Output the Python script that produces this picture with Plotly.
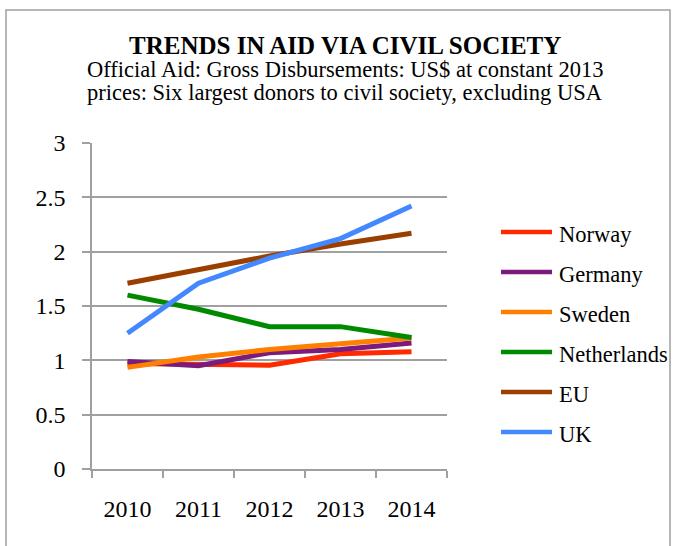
import plotly.graph_objects as go

# Years on the category axis
years = ["2010", "2011", "2012", "2013", "2014"]

# Aid via civil society (US$ billions, constant 2013 prices)
norway = [0.97, 0.96, 0.955, 1.06, 1.08]
germany = [0.99, 0.95, 1.07, 1.10, 1.16]
sweden = [0.935, 1.03, 1.10, 1.15, 1.205]
netherlands = [1.60, 1.47, 1.31, 1.31, 1.21]
eu = [1.71, 1.84, 1.96, 2.07, 2.17]
uk = [1.25, 1.71, 1.94, 2.12, 2.42]

donors = ["Norway", "Germany", "Sweden", "Netherlands", "EU", "UK"]
series = [norway, germany, sweden, netherlands, eu, uk]
colors = ["#FF2A00", "#7B1B7B", "#FF7F00", "#008A00", "#9A3F00", "#4488FF"]

y_ticks = [0, 0.5, 1, 1.5, 2, 2.5, 3]
y_ticklabels = ["0", "0.5", "1", "1.5", "2", "2.5", "3"]

SERIF = "Liberation Serif, Times New Roman, serif"

# Plot-area geometry in pixels (used to place paper-referenced decorations)
W, H = 673, 546
L, R, T, B = 92, 447, 143, 469


def px_x(px):
    return (px - L) / (R - L)


def px_y(py):
    return (B - py) / (B - T)


fig = go.Figure()
for name, vals, col in zip(donors, series, colors):
    fig.add_trace(go.Scatter(
        x=years, y=vals, name=name, mode="lines",
        line=dict(color=col, width=5),
        showlegend=False,
    ))

annotations = [
    dict(text="<b>TRENDS IN AID VIA CIVIL SOCIETY</b>", xref="paper", yref="paper",
         x=px_x(345), y=px_y(46), xanchor="center", yanchor="middle",
         showarrow=False, font=dict(family=SERIF, size=25, color="black")),
    dict(text="Official Aid: Gross Disbursements: US$ at constant 2013",
         xref="paper", yref="paper", x=px_x(345), y=px_y(69),
         xanchor="center", yanchor="middle",
         showarrow=False, font=dict(family=SERIF, size=22.5, color="black")),
    dict(text="prices: Six largest donors to civil society, excluding USA",
         xref="paper", yref="paper", x=px_x(345), y=px_y(92),
         xanchor="center", yanchor="middle",
         showarrow=False, font=dict(family=SERIF, size=22.5, color="black")),
]

shapes = [
    dict(type="rect", xref="paper", yref="paper",
         x0=px_x(6), x1=px_x(670), y0=px_y(570), y1=px_y(10),
         line=dict(color="#A0A0A0", width=1.5), fillcolor="rgba(0,0,0,0)",
         layer="below"),
]

# Legend: a line sample and a label per donor
for i, (name, col) in enumerate(zip(donors, colors)):
    row_y = 232 + 40 * i
    shapes.append(dict(type="line", xref="paper", yref="paper",
                       x0=px_x(501), x1=px_x(552), y0=px_y(row_y), y1=px_y(row_y),
                       line=dict(color=col, width=4.5)))
    annotations.append(dict(text=name, xref="paper", yref="paper",
                            x=px_x(557), y=px_y(row_y + 2),
                            xanchor="left", yanchor="middle", showarrow=False,
                            font=dict(family=SERIF, size=22.5, color="black")))

fig.update_layout(
    width=W, height=H,
    margin=dict(l=L, r=W - R, t=T, b=H - B),
    paper_bgcolor="white", plot_bgcolor="white",
    font=dict(family=SERIF, color="black"),
    showlegend=False,
    annotations=annotations,
    shapes=shapes,
)

fig.update_xaxes(
    type="category",
    showgrid=False,
    showline=True, linecolor="#A0A0A0", linewidth=1.5,
    ticks="outside", tickson="boundaries", ticklen=7, tickcolor="#A0A0A0", tickwidth=1.5,
    tickfont=dict(family=SERIF, size=24, color="black"),
    ticklabelstandoff=17,
    range=[-0.5, 4.5],
    zeroline=False,
)
fig.update_yaxes(
    range=[0, 3],
    tickvals=y_ticks, ticktext=y_ticklabels,
    showgrid=True, gridcolor="#A0A0A0", gridwidth=1.5,
    showline=True, linecolor="#A0A0A0", linewidth=1.5,
    ticks="outside", ticklen=8, tickcolor="#A0A0A0", tickwidth=1.5,
    tickfont=dict(family=SERIF, size=24, color="black"),
    ticklabelstandoff=12,
    zeroline=False,
)

fig.write_html("out.html")
